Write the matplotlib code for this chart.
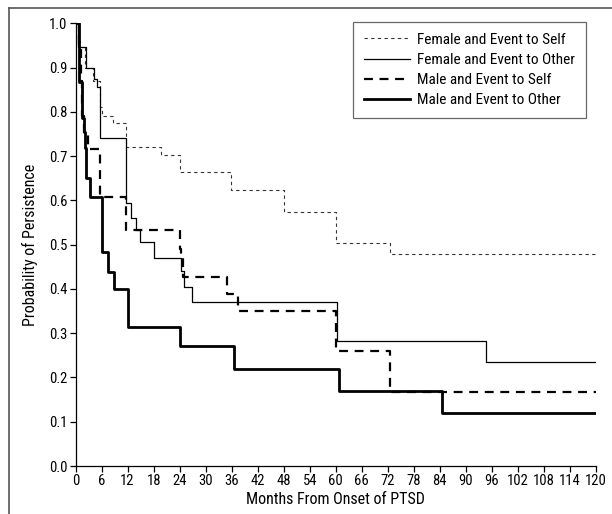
import matplotlib
matplotlib.use('Agg')
import matplotlib.pyplot as plt
from matplotlib.lines import Line2D
from matplotlib import font_manager

names = {f.name for f in font_manager.fontManager.ttflist}
narrow = [n for n in ['Liberation Sans Narrow', 'DejaVu Sans Condensed', 'Roboto Condensed'] if n in names]
plt.rcParams['font.family'] = narrow + ['Liberation Sans', 'DejaVu Sans']

# months / survival estimates
fs_t = [0, 0.6, 1.1, 2.1, 4.0, 5.6, 6.0, 8.6, 11.7, 19.8, 24.0, 35.9, 48.0, 60.1, 72.4, 120]
fs_v = [1.0, 0.96, 0.947, 0.90, 0.87, 0.81, 0.79, 0.774, 0.721, 0.702, 0.663, 0.624, 0.574, 0.504, 0.479, 0.479]

fo_t = [0, 0.6, 2.5, 4.3, 4.9, 5.6, 11.7, 12.7, 14.0, 14.8, 18.0, 24.4, 24.9, 26.8, 60.2, 94.6, 120]
fo_v = [1.0, 0.947, 0.898, 0.875, 0.857, 0.74, 0.593, 0.561, 0.533, 0.505, 0.47, 0.441, 0.405, 0.371, 0.282, 0.234, 0.234]

ms_t = [0, 0.8, 1.2, 1.6, 2.0, 2.9, 5.6, 11.7, 24.0, 24.4, 24.8, 35.0, 37.5, 60.0, 72.6, 120]
ms_v = [1.0, 0.95, 0.87, 0.79, 0.75, 0.715, 0.608, 0.533, 0.49, 0.47, 0.426, 0.388, 0.35, 0.26, 0.168, 0.168]

mo_t = [0, 0.7, 1.6, 1.9, 2.2, 2.5, 3.3, 6.0, 7.5, 8.9, 12.0, 24.0, 36.6, 60.8, 84.4, 120]
mo_v = [1.0, 0.868, 0.785, 0.755, 0.718, 0.65, 0.608, 0.484, 0.439, 0.40, 0.315, 0.271, 0.22, 0.17, 0.119, 0.119]

labels = ['Female and Event to Self', 'Female and Event to Other',
          'Male and Event to Self', 'Male and Event to Other']

fig = plt.figure(figsize=(6.12, 5.14), dpi=100)
ax = fig.add_axes([75.5 / 612, 48 / 514, 520.5 / 612, 442.7 / 514])

ax.step(fs_t, fs_v, where='post', color='#333333', lw=0.8, linestyle=(0, (3, 3)), label=labels[0])
ax.step(fo_t, fo_v, where='post', color='black', lw=0.9, label=labels[1])
ax.step(ms_t, ms_v, where='post', color='black', lw=1.6, linestyle=(0, (4, 3)), label=labels[2])
ax.step(mo_t, mo_v, where='post', color='black', lw=2.0, label=labels[3])

ax.set_xlim(0, 120)
ax.set_ylim(0, 1.0)
ax.set_xticks(range(0, 121, 6))
ax.set_yticks([i / 10 for i in range(11)])
ax.set_yticklabels([f'{i / 10:.1f}' for i in range(11)])
ax.tick_params(direction='out', length=4, width=0.9, labelsize=10.5, pad=2)
for s in ['top', 'right']:
    ax.spines[s].set_visible(False)
for s in ['left', 'bottom']:
    ax.spines[s].set_linewidth(0.9)
ax.set_xlabel('Months From Onset of PTSD', fontsize=11.5, labelpad=3)
ax.set_ylabel('Probability of Persistence', fontsize=11.5, labelpad=8)

leg = ax.legend(loc='upper right', bbox_to_anchor=(0.995, 1.02), fontsize=11, frameon=True,
                fancybox=False, edgecolor='#444444', handlelength=3.0, borderpad=0.7,
                labelspacing=0.4, handletextpad=0.5)
leg.get_frame().set_linewidth(0.9)

# outer frame of the figure (left and top edges visible)
fig.add_artist(Line2D([9 / 612, 9 / 612], [0, 1 - 8 / 514], transform=fig.transFigure,
                      color='#555555', lw=1.2))
fig.add_artist(Line2D([9 / 612, 1], [1 - 8 / 514, 1 - 8 / 514], transform=fig.transFigure,
                      color='#555555', lw=1.2))

fig.savefig('out.png', dpi=100)
